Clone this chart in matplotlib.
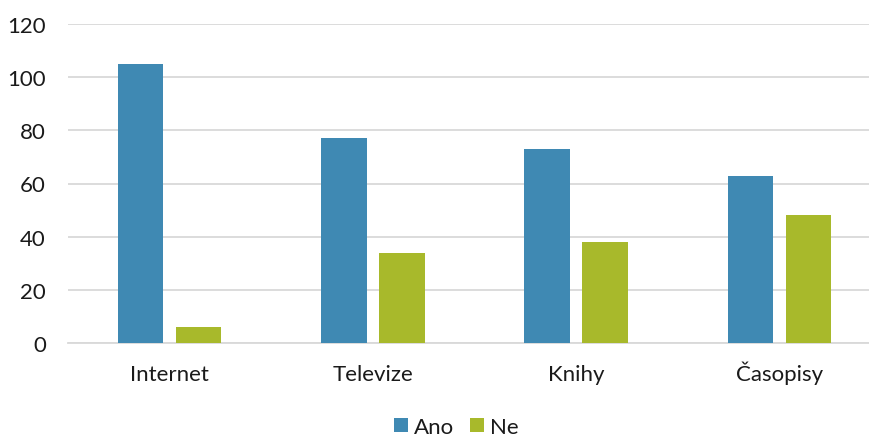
import matplotlib
matplotlib.use("Agg")
import matplotlib.pyplot as plt
import numpy as np

categories = ["Internet", "Televize", "Knihy", "Časopisy"]
ano = [105, 77, 73, 63]
ne = [6, 34, 38, 48]
yticks = [0, 20, 40, 60, 80, 100, 120]

plt.rcParams['font.family'] = ['Lato', 'DejaVu Sans']

fig = plt.figure(figsize=(8.70, 4.39), dpi=100)
left, right = 68, 881
ax = fig.add_axes([left/870, (439-344)/439, (right-left)/870, (344-25)/439])

x = np.arange(len(categories))
w = 0.224
off = 0.143
ax.bar(x - off, ano, w, color="#3F89B3", label="Ano", zorder=3)
ax.bar(x + off, ne, w, color="#A8B92B", label="Ne", zorder=3)

ax.set_xlim(-0.5, len(categories) - 0.5)
ax.set_ylim(0, 120)
ax.set_yticks(yticks)
ax.set_xticks(x)
ax.set_xticklabels(categories, fontsize=16, va='baseline', color="#1a1a1a")
ax.tick_params(axis='y', labelsize=16, length=0, pad=16, labelcolor="#1a1a1a")
ax.tick_params(axis='x', length=0, pad=27)
ax.grid(axis='y', color="#D9D9D9", linewidth=1.3, zorder=0)
for s in ["top", "right", "left"]:
    ax.spines[s].set_visible(False)
ax.spines["bottom"].set_color("#D9D9D9")
ax.spines["bottom"].set_linewidth(1.3)

ax.legend(loc="center", bbox_to_anchor=(456/870, (439-428)/439), bbox_transform=fig.transFigure,
          ncol=2, frameon=False, fontsize=16, handlelength=0.63, handleheight=0.63,
          columnspacing=0.73, handletextpad=0.27, labelcolor="#1a1a1a")

fig.savefig("out.png", dpi=100)
